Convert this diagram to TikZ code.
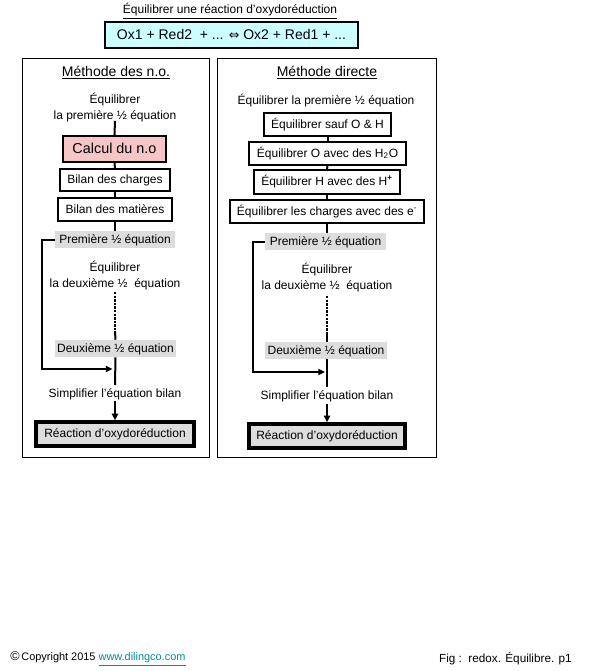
\documentclass[tikz,border=0pt]{standalone}
\usepackage{fontspec}
\setmainfont{Liberation Sans}
\newfontfamily\dejavu{DejaVu Sans}
\usetikzlibrary{arrows.meta}
\definecolor{cyanfill}{RGB}{204,255,255}
\definecolor{pinkfill}{RGB}{246,198,198}
\definecolor{grayfill}{RGB}{221,221,221}
\definecolor{linkcol}{RGB}{0,140,150}
\begin{document}
\begin{tikzpicture}[x=0.75pt,y=-0.75pt,
  every node/.style={font=\fontsize{9}{11}\selectfont, inner sep=0pt},
  txt/.style={align=center},
  cen/.style={text height=6.2pt, text depth=0.6pt},
  box/.style={cen, draw, line width=0.9pt, fill=white},
  thickbox/.style={cen, draw, line width=1.8pt},
  graybox/.style={cen, fill=grayfill},
  panel/.style={draw, line width=0.75pt},
  conn/.style={line width=1.5pt},
  dotconn/.style={line width=1.8pt, dash pattern=on 1.8pt off 0.9pt},
  arr/.style={line width=1.5pt, -{Triangle[length=5pt,width=4.5pt]}}
]
\useasboundingbox (0,0) rectangle (595,671);

% title
\node (title) at (230,11) {\underline{Équilibrer une réaction d'oxydoréduction}};
\node[thickbox, fill=cyanfill, minimum width=253*0.75pt, minimum height=26*0.75pt,
  font=\fontsize{10.5}{12}\selectfont, text height=7.4pt, text depth=0.7pt] (eq) at (231.5,35)
  {Ox1 + Red2~~+ ... {\dejavu\fontsize{9.5}{12}\selectfont ⇔} Ox2 + Red1 + ...};

% panels
\node[panel, minimum width=187*0.75pt, minimum height=399*0.75pt] (pl) at (115.5,257.5) {};
\node[panel, minimum width=219*0.75pt, minimum height=399*0.75pt] (pr) at (326.5,257.5) {};

% ---------- left ----------
\node[font=\fontsize{10.5}{12}\selectfont] (lt) at (116,73) {\underline{Méthode des n.o.}};
\node[txt] (l1) at (115,107.5) {Équilibrer\\[0.5pt]la première ½ équation};
\node[thickbox, fill=pinkfill, minimum width=103*0.75pt, minimum height=26*0.75pt,
  font=\fontsize{10.8}{12}\selectfont, text height=7.5pt, text depth=0.7pt] (lcalc) at (114.5,149) {Calcul du n.o};
\node[box, minimum width=110*0.75pt, minimum height=22*0.75pt] (lch) at (115,180) {Bilan des charges};
\node[box, minimum width=114*0.75pt, minimum height=23*0.75pt] (lma) at (115,209.5) {Bilan des matières};
\node[graybox, minimum width=120*0.75pt, minimum height=17*0.75pt] (lp) at (115,239.5) {Première ½ équation};
\node[txt] (l2) at (115,275.5) {Équilibrer\\[0.5pt]la deuxième ½~ équation};
\node[graybox, minimum width=121*0.75pt, minimum height=17*0.75pt] (ld) at (115.5,348.5) {Deuxième ½ équation};
\node[cen] (ls) at (115,394) {Simplifier l'équation bilan};
\node[cen, draw, line width=2.4pt, fill=grayfill, minimum width=158*0.75pt, minimum height=24*0.75pt] (lr) at (115,434) {Réaction d'oxydoréduction};

\draw[conn] (l1.south) ++(0,-1) -- (lcalc.north);
\draw[conn] (lcalc.south) -- (lch.north);
\draw[conn] (lch.south) -- (lma.north);
\draw[conn] (lma.south) -- (lp.north);
\coordinate (ltop) at (115,292);
\coordinate (ldot) at (115,331);
\draw[dotconn] (ltop) -- (ldot);
\draw[conn] (ldot) -- (ld.north);
\coordinate (lsa) at (115,385);
\draw[conn] (ld.south) -- (lsa);
\coordinate (lsb) at (115,401);
\draw[arr] (lsb) -- (lr.north);
\coordinate (lb1) at (41.5,239.5);
\coordinate (lb2) at (41.5,369);
\coordinate (lb3) at (115,369);
\draw[arr] (lp.west) -- (lb1) -- (lb2) -- ([xshift=-2.5*0.75pt]lb3);

% ---------- right ----------
\node[font=\fontsize{10.5}{12}\selectfont] (rt) at (327,73) {\underline{Méthode directe}};
\node[cen] (r1) at (326,101) {Équilibrer la première ½ équation};
\node[box, minimum width=127*0.75pt, minimum height=23*0.75pt] (r2) at (327.5,124.5) {Équilibrer sauf O \& H};
\node[box, minimum width=157*0.75pt, minimum height=23*0.75pt] (r3) at (327.5,153.5) {Équilibrer O avec des H\textsubscript{2}O};
\node[box, minimum width=146*0.75pt, minimum height=24*0.75pt] (r4) at (327,182) {Équilibrer H avec des H\textsuperscript{\textbf{+}}};
\node[box, minimum width=194*0.75pt, minimum height=23*0.75pt] (r5) at (327,211.5) {Équilibrer les charges avec des e\textsuperscript{-}};
\node[graybox, minimum width=121*0.75pt, minimum height=17*0.75pt] (rp) at (325.5,241.5) {Première ½ équation};
\node[txt] (r6) at (327,277.5) {Équilibrer\\[0.5pt]la deuxième ½~ équation};
\node[graybox, minimum width=122*0.75pt, minimum height=17*0.75pt] (rd) at (326,350.5) {Deuxième ½ équation};
\node[cen] (rs) at (327,396) {Simplifier l'équation bilan};
\node[cen, draw, line width=2.4pt, fill=grayfill, minimum width=156*0.75pt, minimum height=24*0.75pt] (rr) at (327,436) {Réaction d'oxydoréduction};

\draw[conn] (r2.south) -- (r3.north);
\draw[conn] (r3.south) -- (r4.north);
\draw[conn] (r4.south) -- (r5.north);
\draw[conn] (r5.south) -- ([xshift=1.5*0.75pt]rp.north);
\coordinate (rtop) at (327,296);
\coordinate (rdot) at (327,333);
\draw[dotconn] (rtop) -- (rdot);
\draw[conn] (rdot) -- ([xshift=1*0.75pt]rd.north);
\coordinate (rsa) at (327,387);
\draw[conn] ([xshift=1*0.75pt]rd.south) -- (rsa);
\coordinate (rsb) at (327,404);
\draw[arr] (rsb) -- (rr.north);
\coordinate (rb1) at (253,241.5);
\coordinate (rb2) at (253,372);
\coordinate (rb3) at (327,372);
\draw[arr] (rp.west) -- (rb1) -- (rb2) -- ([xshift=-2*0.75pt]rb3);

% footer
\node[anchor=west, font=\fontsize{8.2}{9}\selectfont] (copy) at (10,659)
  {{\fontsize{9.5}{9}\selectfont ©}\,Copyright 2015 \textcolor{linkcol}{\underline{www.dilingco.com}}};
\node[anchor=east, font=\fontsize{8.8}{9}\selectfont] (fig) at (572,659) {Fig :~~redox. Équilibre. p1};
\end{tikzpicture}
\end{document}
